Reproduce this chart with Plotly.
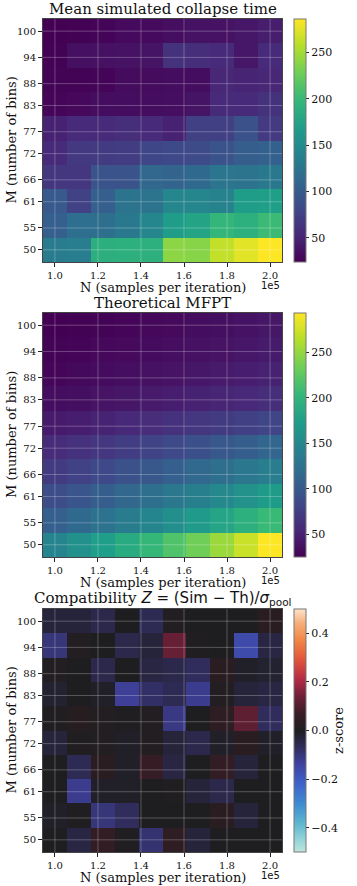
import plotly.graph_objects as go
from plotly.subplots import make_subplots

# cell centres
N_samples = [100000, 111111, 122222, 133333, 144444, 155556, 166667, 177778, 188889, 200000]
M_bins = [50.0, 55.56, 61.11, 66.67, 72.22, 77.78, 83.33, 88.89, 94.44, 100.0]

# tick positions / labels
M_ticks = [50, 55, 61, 66, 72, 77, 83, 88, 94, 100]
N_ticks = [100000, 120000, 140000, 160000, 180000, 200000]
N_ticktext = ['1.0', '1.2', '1.4', '1.6', '1.8', '2.0']
time_ticks = [50, 100, 150, 200, 250]
z_ticks = [-0.4, -0.2, 0.0, 0.2, 0.4]
z_ticktext = ['\u22120.4', '\u22120.2', '0.0', '0.2', '0.4']

# rows follow M_bins (50 -> 100), columns follow N_samples
sim_time = [
    [134, 136, 188, 190, 189, 240, 238, 262, 275, 286],
    [103, 118, 119, 129, 145, 168, 176, 197, 189, 202],
    [97, 76, 103, 124, 124, 145, 145, 142, 168, 171],
    [66, 66, 92, 92, 110, 108, 113, 126, 124, 129],
    [55, 68, 70, 72, 80, 82, 84, 92, 102, 104],
    [48, 55, 55, 58, 55, 48, 74, 74, 90, 69],
    [28, 29, 33, 33, 33, 34, 38, 55, 55, 62],
    [26, 26, 27, 32, 32, 33, 33, 52, 50, 52],
    [25, 35, 36, 37, 38, 62, 58, 55, 40, 55],
    [24, 25, 27, 31, 31, 34, 37, 37, 40, 45],
]

theory_mfpt = [
    [146, 160, 174, 188, 203, 218, 234, 252, 272, 293],
    [106, 116, 126, 136, 147, 158, 170, 182, 194, 206],
    [88, 96, 105, 113, 122, 131, 141, 151, 161, 172],
    [72, 78, 85, 92, 99, 106, 114, 122, 131, 140],
    [58, 63, 68, 74, 79, 85, 91, 98, 105, 112],
    [44, 47, 51, 55, 59, 63, 67, 72, 76, 81],
    [34, 36, 39, 41, 44, 47, 50, 53, 56, 60],
    [29, 31, 33, 35, 37, 39, 42, 44, 47, 50],
    [27, 28, 30, 32, 33, 35, 37, 39, 42, 45],
    [25, 26, 27, 29, 30, 32, 34, 36, 38, 41],
]

z_score = [
    [0.0, -0.04, 0.05, 0.005, -0.09, 0.04, -0.03, 0.0, 0.0, 0.0],
    [-0.01, 0.005, -0.10, -0.07, 0.0, 0.0, 0.0, 0.03, -0.03, 0.0],
    [0.0, -0.12, -0.01, -0.01, 0.0, 0.005, -0.03, -0.05, 0.0, 0.0],
    [0.0, -0.06, 0.03, -0.01, 0.06, -0.04, 0.0, 0.05, -0.03, 0.0],
    [-0.03, 0.005, 0.01, -0.01, 0.01, -0.03, -0.05, -0.01, 0.03, -0.01],
    [0.005, 0.02, 0.01, 0.005, 0.01, -0.11, 0.0, 0.04, 0.12, -0.07],
    [-0.02, 0.0, -0.01, -0.13, -0.08, -0.06, -0.12, 0.01, -0.03, -0.04],
    [0.01, 0.0, -0.05, 0.0, -0.04, -0.05, -0.07, 0.03, -0.01, -0.02],
    [-0.10, 0.01, 0.0, -0.05, -0.03, 0.13, 0.005, 0.0, -0.16, -0.04],
    [-0.03, -0.03, -0.05, 0.0, -0.06, 0.01, 0.0, 0.0, 0.0, 0.03],
]

icefire = [
    [0.00, '#bde7db'], [0.06, '#8dd0d6'], [0.12, '#5cb5cf'], [0.20, '#3d8bd0'],
    [0.28, '#3e62c9'], [0.36, '#3f43a0'], [0.43, '#302c5c'], [0.50, '#1e1e20'],
    [0.57, '#3a1c25'], [0.64, '#6e2038'], [0.71, '#b32a45'], [0.79, '#e2533a'],
    [0.87, '#f08545'], [0.94, '#f7ae78'], [1.00, '#fde3cc'],
]

W, H = 357, 886
px_x0, px_x1 = 43, 282
panels = [(19, 262), (313, 557), (609, 852)]
titles = ['Mean simulated collapse time', 'Theoretical MFPT',
          'Compatibility <span style="font-family:DejaVu Sans"><i>Z</i> = (Sim \u2212 Th)/<i>\u03c3</i><sub>pool</sub></span>']

serif = 'DejaVu Serif'

fig = make_subplots(rows=3, cols=1)

mats = [sim_time, theory_mfpt, z_score]
for i, mat in enumerate(mats):
    top, bot = panels[i]
    cb = dict(x=294 / W, xanchor='left', y=1 - (top + bot) / 2 / H, yanchor='middle',
              len=bot - top, lenmode='pixels', thickness=12, xpad=0, ypad=0,
              outlinewidth=1, outlinecolor='#777',
              ticks='outside', ticklen=3, tickcolor='#222',
              tickfont=dict(family=serif, size=11, color='#111'))
    if i < 2:
        cb['tickvals'] = time_ticks
        tr = go.Heatmap(x=N_samples, y=M_bins, z=mat, colorscale='Viridis', colorbar=cb)
    else:
        cb['tickvals'] = z_ticks
        cb['ticktext'] = z_ticktext
        cb['title'] = dict(text='z-score', side='right', font=dict(family=serif, size=13, color='#111'))
        tr = go.Heatmap(x=N_samples, y=M_bins, z=mat, colorscale=icefire,
                        zmin=-0.5, zmax=0.5, colorbar=cb)
    fig.add_trace(tr, row=i + 1, col=1)

annotations = []
shapes = []
for i in range(3):
    top, bot = panels[i]
    n = '' if i == 0 else str(i + 1)
    fig.layout['xaxis' + n].update(
        domain=[px_x0 / W, px_x1 / W], tickvals=N_ticks, ticktext=N_ticktext,
        ticks='outside', ticklen=4, tickcolor='#222', showgrid=False, zeroline=False,
        showline=True, mirror=True, linecolor='#444', linewidth=1,
        tickfont=dict(family=serif, size=10, color='#111'))
    fig.layout['yaxis' + n].update(
        domain=[1 - bot / H, 1 - top / H], tickvals=M_ticks, ticktext=[str(m) for m in M_ticks],
        ticks='outside', ticklen=4, tickcolor='#222', showgrid=False, zeroline=False,
        showline=True, mirror=True, linecolor='#444', linewidth=1,
        tickfont=dict(family=serif, size=10, color='#111'))

    # grid drawn over the cells
    for t in N_ticks:
        shapes.append(dict(type='line', xref='x' + n, yref='y' + n + ' domain',
                           x0=t, x1=t, y0=0, y1=1, layer='above',
                           line=dict(color='rgba(255,255,255,0.25)', width=1)))
    for m in M_ticks:
        shapes.append(dict(type='line', xref='x' + n + ' domain', yref='y' + n,
                           x0=0, x1=1, y0=m, y1=m, layer='above',
                           line=dict(color='rgba(255,255,255,0.25)', width=1)))

    xc = (px_x0 + px_x1) / 2 / W
    # title
    annotations.append(dict(xref='paper', yref='paper', x=xc, y=1 - top / H,
                            xanchor='center', yanchor='bottom', yshift=-1,
                            text=titles[i], showarrow=False,
                            font=dict(family=serif, size=15, color='#111')))
    # x label
    annotations.append(dict(xref='paper', yref='paper', x=xc, y=1 - bot / H,
                            xanchor='center', yanchor='top', yshift=-16,
                            text='N (samples per iteration)', showarrow=False,
                            font=dict(family=serif, size=13, color='#111')))
    # offset text
    annotations.append(dict(xref='paper', yref='paper', x=px_x1 / W, y=1 - bot / H,
                            xanchor='right', yanchor='top', yshift=-16,
                            text='1e5', showarrow=False,
                            font=dict(family='DejaVu Sans', size=10, color='#111')))
    # y label
    annotations.append(dict(xref='paper', yref='paper', x=11 / W, y=1 - (top + bot) / 2 / H,
                            xanchor='center', yanchor='middle', textangle=-90,
                            text='M (number of bins)', showarrow=False,
                            font=dict(family=serif, size=13, color='#111')))

fig.update_layout(width=W, height=H, margin=dict(l=0, r=0, t=0, b=0, autoexpand=False),
                  paper_bgcolor='white', plot_bgcolor='white', showlegend=False,
                  annotations=annotations, shapes=shapes)

fig.write_html("out.html", config={'displayModeBar': False},
               post_script="document.body.style.margin='0px';")
